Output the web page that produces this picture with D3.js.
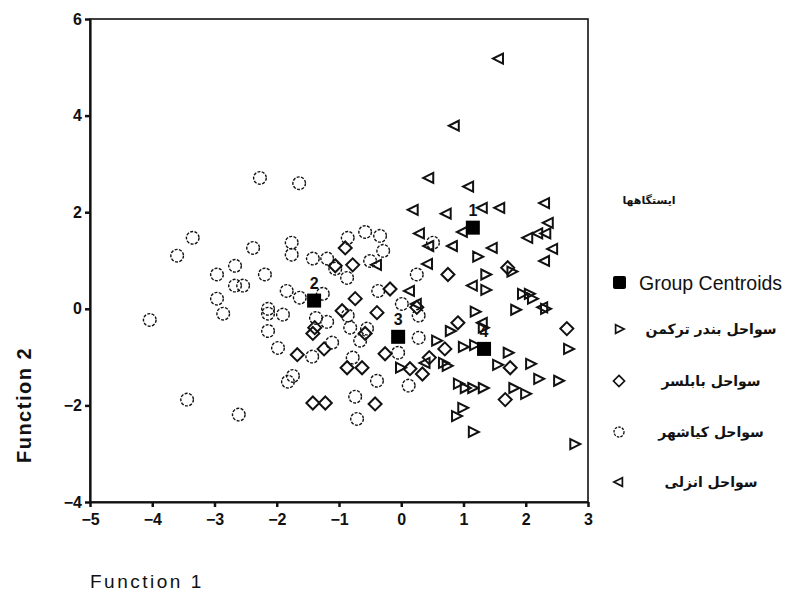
<!DOCTYPE html>
<html>
<head>
<meta charset="utf-8">
<script src="https://cdn.jsdelivr.net/npm/d3@7/dist/d3.min.js"></script>
<style>
  body { margin: 0; background: #fff; }
  svg { display: block; }
</style>
</head>
<body>
<svg id="chart" width="801" height="596"></svg>
<script>
// ---- data (Function 1, Function 2) ----
const xTicks = [-5, -4, -3, -2, -1, 0, 1, 2, 3];
const yTicks = [-4, -2, 0, 2, 4, 6];

const legendTitle = "ایستگاهها";
const centroidLabel = "Group Centroids";
const groupNames = ["سواحل بندر ترکمن", "سواحل بابلسر", "سواحل کیاشهر", "سواحل انزلی"];

// بندر ترکمن (right-pointing triangles)
const torkamanPts = [
  [1.22,1.08],[1.35,0.71],[1.35,0.39],[1.77,0.77],[1.94,0.31],[2.05,0.31],[2.10,0.21],
  [1.83,-0.02],[2.31,0.00],[1.18,-0.06],[1.31,-0.39],[0.56,-0.66],[0.78,-0.46],[0.99,-0.79],
  [1.17,-0.75],[1.71,-0.91],[1.54,-1.16],[2.07,-1.14],[2.20,-1.45],[2.52,-1.49],[2.68,-0.83],
  [0.91,-1.55],[1.02,-1.64],[1.14,-1.64],[1.31,-1.64],[1.80,-1.64],[1.99,-1.76],[0.98,-2.05],
  [0.88,-2.22],[1.15,-2.55],[2.78,-2.80],[-0.02,-1.22],[0.67,-1.12],[0.73,-1.18]
];
// بابلسر (diamonds)
const babolsarPts = [
  [-0.90,1.26],[-0.78,0.91],[-1.06,0.89],[-0.18,0.41],[-0.74,0.21],[-0.95,-0.04],[-0.39,-0.08],
  [-1.42,-0.51],[-1.39,-0.39],[-1.24,-0.83],[-1.67,-0.95],[-0.87,-1.22],[-0.63,-1.22],
  [-1.42,-1.95],[-1.22,-1.95],[-0.42,-1.97],[-0.26,-0.93],[0.14,-1.24],[0.34,-1.35],[0.45,-1.01],
  [0.25,0.03],[-0.58,-0.51],[0.75,0.71],[0.91,-0.29],[0.70,-0.83],[1.71,0.85],[1.75,-1.22],
  [1.67,-1.88],[2.66,-0.41]
];
// کیاشهر (circles)
const kiashahrPts = [
  [-2.27,2.71],[-1.64,2.60],[-3.35,1.47],[-3.60,1.10],[-2.38,1.26],[-1.76,1.37],[-1.76,1.12],
  [-1.42,1.04],[-1.19,1.04],[-2.67,0.89],[-2.96,0.71],[-2.19,0.71],[-2.67,0.48],[-2.54,0.48],
  [-2.96,0.21],[-2.86,-0.10],[-1.84,0.37],[-1.63,0.23],[-1.26,0.31],[-2.14,0.00],[-2.14,-0.10],
  [-1.90,-0.12],[-4.04,-0.23],[-2.14,-0.46],[-1.98,-0.81],[-1.37,-0.19],[-1.19,-0.27],
  [-1.11,-0.70],[-1.43,-0.99],[-1.74,-1.39],[-1.82,-1.51],[-3.44,-1.88],[-2.61,-2.19],
  [-0.86,1.47],[-0.58,1.59],[-0.34,1.51],[-0.29,1.20],[-0.50,0.99],[-1.06,0.83],[-0.87,0.64],
  [-0.37,0.37],[0.01,0.10],[0.25,0.71],[0.51,1.37],[-0.86,-0.14],[-0.82,-0.39],[-0.55,-0.41],
  [-0.66,-0.66],[-0.78,-1.01],[-0.39,-1.49],[-0.74,-1.82],[-0.71,-2.28],[-0.05,-0.91],
  [0.28,-0.60],[0.28,-0.14],[0.12,-1.59]
];
// انزلی (left-pointing triangles)
const anzaliPts = [
  [1.57,5.18],[0.86,3.79],[0.45,2.71],[1.09,2.53],[1.31,2.09],[1.59,2.09],[0.20,2.05],[0.73,1.97],
  [2.31,2.19],[2.37,1.78],[2.04,1.47],[2.20,1.56],[2.33,1.56],[0.99,1.59],[0.30,1.56],[0.45,1.30],
  [0.83,1.30],[1.47,1.26],[2.44,1.24],[2.31,0.99],[0.43,0.93],[-0.39,0.91],[0.14,0.37],[0.25,0.10],
  [1.15,0.48],[1.31,-0.29],[2.28,0.03],[0.39,-1.12]
];
// group centroids
const centroidIds = ["1", "2", "3", "4"];
const centroidPts = [[1.15,1.68],[-1.40,0.17],[-0.05,-0.58],[1.33,-0.83]];

// ---- drawing ----
const svg = d3.select("#chart");
const x = d3.scaleLinear().domain([-5, 3]).range([90, 588]);
const y = d3.scaleLinear().domain([-4, 6]).range([502, 19]);

const ink = "#111";
const shapes = {
  right: "M-4,-5L6,0L-4,5Z",
  left: "M4,-5L-6,0L4,5Z",
  diamond: "M0,-6.5L6.5,0L0,6.5L-6.5,0Z"
};

// frame
svg.append("rect")
  .attr("x", x(-5)).attr("y", y(6))
  .attr("width", x(3) - x(-5)).attr("height", y(-4) - y(6))
  .attr("fill", "none").attr("stroke", ink).attr("stroke-width", 1.6);

const fontAxis = "'Liberation Sans', Arial, sans-serif";

const gx = svg.append("g").attr("transform", `translate(0,${y(-4)})`)
  .call(d3.axisBottom(x).tickValues(xTicks).tickSize(5).tickSizeOuter(0).tickFormat(d3.format("d")));
const gy = svg.append("g").attr("transform", `translate(${x(-5)},0)`)
  .call(d3.axisLeft(y).tickValues(yTicks).tickSize(5).tickSizeOuter(0).tickFormat(d3.format("d")));
[gx, gy].forEach(g => {
  g.select(".domain").attr("stroke", ink).attr("stroke-width", 2.2);
  g.selectAll(".tick line").attr("stroke", ink).attr("stroke-width", 2.5);
  g.selectAll(".tick text").attr("fill", ink)
    .style("font-family", fontAxis).style("font-size", "16px").style("font-weight", "bold");
});
gx.selectAll(".tick text").attr("dy", "0.95em");
gy.selectAll(".tick text").attr("x", -8);

// points
const plot = svg.append("g");
plot.selectAll(".kia").data(kiashahrPts).join("circle")
  .attr("cx", d => x(d[0])).attr("cy", d => y(d[1])).attr("r", 6.3)
  .attr("fill", "none").attr("stroke", ink).attr("stroke-width", 1.4)
  .attr("stroke-dasharray", "3,1.4");
plot.selectAll(".bab").data(babolsarPts).join("path")
  .attr("d", shapes.diamond)
  .attr("transform", d => `translate(${x(d[0])},${y(d[1])})`)
  .attr("fill", "none").attr("stroke", ink).attr("stroke-width", 2);
plot.selectAll(".tor").data(torkamanPts).join("path")
  .attr("d", shapes.right)
  .attr("transform", d => `translate(${x(d[0])},${y(d[1])})`)
  .attr("fill", "none").attr("stroke", ink).attr("stroke-width", 2);
plot.selectAll(".anz").data(anzaliPts).join("path")
  .attr("d", shapes.left)
  .attr("transform", d => `translate(${x(d[0])},${y(d[1])})`)
  .attr("fill", "none").attr("stroke", ink).attr("stroke-width", 2);

// centroids
const cg = plot.selectAll(".cent").data(centroidPts).join("g")
  .attr("transform", d => `translate(${x(d[0])},${y(d[1])})`);
cg.append("rect").attr("x", -7).attr("y", -7).attr("width", 14).attr("height", 14).attr("fill", "#000");
cg.append("text").text((d, i) => centroidIds[i])
  .attr("x", 0).attr("y", -12).attr("text-anchor", "middle")
  .style("font-family", fontAxis).style("font-size", "16px").style("font-weight", "bold")
  .attr("fill", ink);

// axis titles
svg.append("text").text("Function 1")
  .attr("x", 90).attr("y", 588)
  .style("font-family", fontAxis).style("font-size", "19px").style("letter-spacing", "2.5px").attr("fill", ink);
svg.append("text").text("Function 2")
  .attr("transform", "translate(31,405) rotate(-90)").attr("text-anchor", "middle")
  .style("font-family", fontAxis).style("font-size", "20px").style("font-weight", "bold")
  .style("letter-spacing", "1.5px").attr("fill", ink);

// legend
const lg = svg.append("g");
const fontFa = "'DejaVu Sans', 'Noto Sans', sans-serif";
lg.append("text").text(legendTitle)
  .attr("x", 649).attr("y", 204).attr("text-anchor", "middle")
  .style("font-family", fontFa).style("font-size", "11px").style("font-weight", "bold").attr("fill", ink);
lg.append("rect").attr("x", 613).attr("y", 276).attr("width", 13).attr("height", 13).attr("rx", 2).attr("fill", "#000");
lg.append("text").text(centroidLabel)
  .attr("x", 639).attr("y", 290)
  .style("font-family", fontAxis).style("font-size", "19.5px").attr("fill", ink);

const rowY = [329, 381, 432, 482];
const rowShapes = ["right", "diamond", "circle", "left"];
rowY.forEach((ry, i) => {
  const s = rowShapes[i];
  if (s === "circle") {
    lg.append("circle").attr("cx", 619).attr("cy", ry).attr("r", 5)
      .attr("fill", "none").attr("stroke", ink).attr("stroke-width", 1.3).attr("stroke-dasharray", "2.5,1.2");
  } else {
    lg.append("path").attr("d", shapes[s])
      .attr("transform", `translate(619,${ry}) scale(0.85)`)
      .attr("fill", "none").attr("stroke", ink).attr("stroke-width", 2);
  }
  lg.append("text").text(groupNames[i])
    .attr("x", 711).attr("y", ry + 5).attr("text-anchor", "middle")
    .style("font-family", fontFa).style("font-size", "14px").style("font-weight", "bold").attr("fill", ink);
});
</script>
</body>
</html>
